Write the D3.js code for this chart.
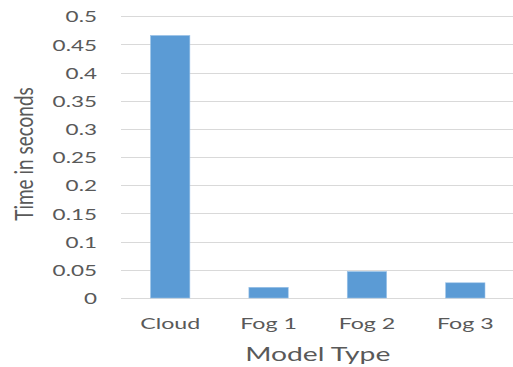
<!DOCTYPE html>
<html>
<head>
<meta charset="utf-8">
<script src="https://cdn.jsdelivr.net/npm/d3@7"></script>
<style>
  html, body { margin: 0; padding: 0; background: #fff; }
  svg { display: block; }
  text { font-family: Lato, "Open Sans", sans-serif; fill: #595959; }
</style>
</head>
<body>
<svg id="chart" width="513" height="367"></svg>
<script>
// Response time per model type
const categories = ["Cloud", "Fog 1", "Fog 2", "Fog 3"];
const values = [0.466, 0.019, 0.047, 0.027];
const yTicks = [0, 0.05, 0.1, 0.15, 0.2, 0.25, 0.3, 0.35, 0.4, 0.45, 0.5];
const yTickLabels = ["0", "0.05", "0.1", "0.15", "0.2", "0.25", "0.3", "0.35", "0.4", "0.45", "0.5"];
const xTitle = "Model Type";
const yTitle = "Time in seconds";

const W = 513, H = 367;
const plot = { left: 121, right: 514.5, top: 16.3, bottom: 298 };
const stretch = 1.45; // horizontal widening of all lettering

const svg = d3.select("#chart");

const x = d3.scaleBand()
  .domain(categories)
  .range([plot.left, plot.right])
  .paddingInner(0.6)
  .paddingOuter(0.3);

const y = d3.scaleLinear()
  .domain([0, 0.5])
  .range([plot.bottom, plot.top]);

// Horizontal gridlines
svg.append("g")
  .selectAll("line")
  .data(yTicks)
  .join("line")
  .attr("x1", plot.left)
  .attr("x2", W)
  .attr("y1", d => Math.round(y(d)) + 0.5)
  .attr("y2", d => Math.round(y(d)) + 0.5)
  .attr("stroke", "#d9d9d9")
  .attr("stroke-width", 1);

// Bars
svg.append("g")
  .selectAll("rect")
  .data(categories.map((c, i) => ({ c, v: values[i] })))
  .join("rect")
  .attr("x", d => x(d.c))
  .attr("width", x.bandwidth())
  .attr("y", d => y(d.v))
  .attr("height", d => y(0) - y(d.v))
  .attr("fill", "#5b9bd5")
  .attr("stroke", "#9cc3e8")
  .attr("stroke-width", 0.6);

// Y axis labels
const yAxis = d3.axisLeft(y)
  .tickValues(yTicks)
  .tickFormat((d, i) => yTickLabels[i])
  .tickSize(0)
  .tickPadding(0);

const gy = svg.append("g")
  .attr("transform", `translate(97,0)`)
  .call(yAxis);
gy.select(".domain").remove();
gy.selectAll("text")
  .attr("x", 0)
  .attr("dy", "0.36em")
  .attr("transform", `scale(${stretch},1)`)
  .style("font-family", "Lato, 'Open Sans', sans-serif")
  .style("font-size", "15.5px")
  .style("fill", "#595959");

// X axis labels
const xAxis = d3.axisBottom(x).tickSize(0).tickPadding(0);
const gx = svg.append("g")
  .attr("transform", `translate(0,329)`)
  .call(xAxis);
gx.select(".domain").remove();
gx.selectAll(".tick text")
  .attr("y", 0)
  .attr("dy", 0)
  .attr("transform", `scale(${stretch},1)`)
  .style("font-family", "Lato, 'Open Sans', sans-serif")
  .style("font-size", "16px")
  .style("fill", "#595959");

// Axis titles
svg.append("text")
  .attr("transform", `translate(${(plot.left + plot.right) / 2},361) scale(${stretch},1)`)
  .attr("text-anchor", "middle")
  .style("font-size", "19.5px")
  .text(xTitle);

svg.append("text")
  .attr("transform", `translate(33,154) scale(1.3,1) rotate(-90)`)
  .attr("text-anchor", "middle")
  .style("font-size", "19px")
  .text(yTitle);
</script>
</body>
</html>
